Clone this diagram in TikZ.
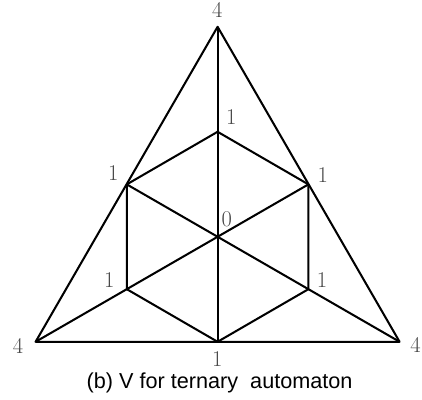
\documentclass[tikz,border=0pt]{standalone}
\usepackage{fontspec}
\newfontfamily\capfont{Liberation Sans}
\tikzset{
  vlabel/.style={text=black!72, font=\fontsize{16}{19}\selectfont, inner sep=0pt},
  edge/.style={line width=1.45pt, line join=round}
}
\begin{document}
\begin{tikzpicture}[x=1cm,y=1cm]
\useasboundingbox (0,0) rectangle (10.55,10);
% corners of the big triangle and centre
\coordinate (c) at (5.44,4.08);
\coordinate (t) at (5.44,9.33);
\coordinate (bl) at (0.89,1.455);
\coordinate (br) at (9.99,1.455);
% hexagon
\coordinate (htop) at (5.44,6.705);
\coordinate (hul) at (3.17,5.39);
\coordinate (hur) at (7.71,5.39);
\coordinate (hll) at (3.17,2.77);
\coordinate (hlr) at (7.71,2.77);
\coordinate (hbot) at (5.44,1.455);
\draw[edge] (t) -- (bl) -- (br) -- cycle;
\draw[edge] (htop) -- (hur) -- (hlr) -- (hbot) -- (hll) -- (hul) -- cycle;
\draw[edge] (t) -- (hbot);
\draw[edge] (bl) -- (hur);
\draw[edge] (br) -- (hul);
% values
\node[vlabel] (lt) at (5.43,9.74) {4};
\node[vlabel] (lbl) at (0.45,1.35) {4};
\node[vlabel] (lbr) at (10.39,1.375) {4};
\node[vlabel] (lbot) at (5.43,1.02) {1};
\node[vlabel] (ltop) at (5.78,7.08) {1};
\node[vlabel] (lul) at (2.83,5.68) {1};
\node[vlabel] (lur) at (8.07,5.63) {1};
\node[vlabel] (lc) at (5.67,4.52) {0};
\node[vlabel] (lll) at (2.73,3.0) {1};
\node[vlabel] (llr) at (8.05,3.0) {1};
\node[anchor=base, inner sep=0pt, font=\capfont\fontsize{15.4}{18}\selectfont] (cap) at (5.49,0.28) {(b) V for ternary\ \ automaton};
\end{tikzpicture}
\end{document}
